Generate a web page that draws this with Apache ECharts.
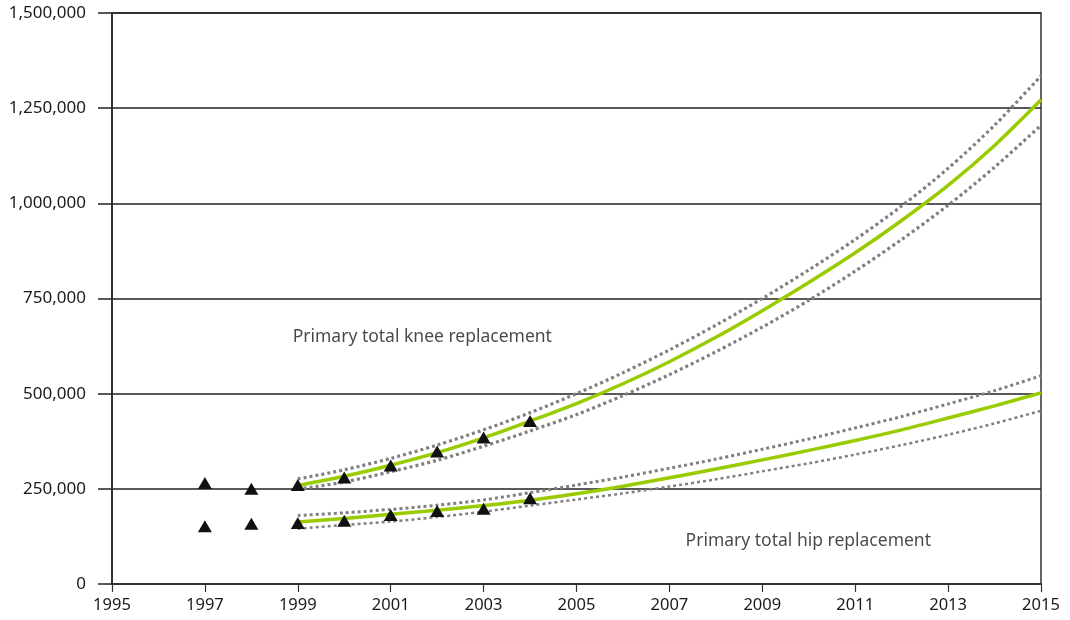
<!DOCTYPE html>
<html>
<head>
<meta charset="utf-8">
<script src="https://cdn.jsdelivr.net/npm/echarts@6/dist/echarts.min.js"></script>
<style>
  html, body { margin: 0; padding: 0; background: #fff; }
  #chart { width: 1070px; height: 620px; }
</style>
</head>
<body>
<div id="chart"></div>
<script>
// Observed annual counts (triangles)
const observedYears = [1997, 1998, 1999, 2000, 2001, 2002, 2003, 2004];
const kneeObserved = [265000, 250000, 260000, 280000, 311000, 348000, 385000, 428000];
const hipObserved  = [152000, 158000, 160000, 166000, 181000, 192000, 198000, 225000];

// Projected trend with upper / lower bounds
const projYears = [1999, 2000, 2001, 2002, 2003, 2004, 2005, 2006, 2007,
                   2008, 2009, 2010, 2011, 2012, 2013, 2014, 2015];
const kneeFit   = [259000, 283000, 312000, 345000, 384000, 428000, 474000, 526000, 584000,
                   648000, 718000, 792000, 870000, 955000, 1047000, 1152000, 1272000];
const kneeUpper = [276000, 300000, 330000, 365000, 405000, 450000, 500000, 555000, 615000,
                   680000, 750000, 825000, 905000, 993000, 1092000, 1205000, 1335000];
const kneeLower = [249000, 268000, 295000, 325000, 362000, 402000, 445000, 495000, 550000,
                   610000, 675000, 745000, 822000, 905000, 995000, 1095000, 1205000];
const hipFit    = [163000, 172000, 183000, 194000, 206000, 220000, 237000, 257000, 279000,
                   302000, 326000, 351000, 377000, 405000, 436000, 468000, 502000];
const hipUpper  = [180000, 187000, 196000, 207000, 221000, 240000, 260000, 281000, 304000,
                   328000, 354000, 381000, 410000, 440000, 473000, 508000, 547000];
const hipLower  = [145000, 155000, 164000, 176000, 190000, 206000, 222000, 238000, 256000,
                   275000, 296000, 317000, 340000, 365000, 392000, 422000, 455000];

// Axis ticks
const xMin = 1995, xMax = 2015, xStep = 2;
const yMin = 0, yMax = 1500000, yStep = 250000;

// In-chart annotations: [year, value, text]
const annotations = [
  [2001.68, 649000, 'Primary total knee replacement'],
  [2009.99, 113000, 'Primary total hip replacement']
];

const FONT = '"Noto Sans", sans-serif';
const TEXT = '#1a1a1a';
const GREEN = '#99cc00';
const GREY = '#808080';

function pairs(xs, ys) { return xs.map((x, i) => [x, ys[i]]); }

function fitLine(name, ys) {
  return {
    name: name, type: 'line', data: pairs(projYears, ys),
    smooth: 0.3, symbol: 'none', z: 3,
    lineStyle: { color: GREEN, width: 3.5 }
  };
}
function boundLine(name, ys, w) {
  return {
    name: name, type: 'line', data: pairs(projYears, ys),
    smooth: 0.3, symbol: 'none', z: 2,
    lineStyle: { color: GREY, width: w, type: [3, 3], cap: 'butt' }
  };
}
function observed(name, ys) {
  return {
    name: name, type: 'scatter', data: pairs(observedYears, ys),
    symbol: 'triangle', symbolSize: [14, 12], z: 5,
    itemStyle: { color: '#111', opacity: 1 }
  };
}

const chart = echarts.init(document.getElementById('chart'), null, { renderer: 'canvas' });
chart.setOption({
  animation: false,
  backgroundColor: '#fff',
  grid: {
    left: 112, right: 29, top: 13, bottom: 36,
    show: true, borderColor: '#333', borderWidth: 1.5, backgroundColor: 'transparent'
  },
  xAxis: {
    type: 'value', min: xMin, max: xMax, interval: xStep,
    axisLine: { show: true, lineStyle: { color: '#333', width: 2 } },
    axisTick: { show: true, length: 8, lineStyle: { color: '#333', width: 1.2 } },
    axisLabel: {
      margin: 13, color: TEXT, fontSize: 16.5, fontFamily: FONT,
      formatter: v => String(v)
    },
    splitLine: { show: false }
  },
  yAxis: {
    type: 'value', min: yMin, max: yMax, interval: yStep,
    axisLine: { show: true, lineStyle: { color: '#333', width: 2 } },
    axisTick: { show: true, length: 14, lineStyle: { color: '#222', width: 1.5 } },
    axisLabel: {
      margin: 26, color: TEXT, fontSize: 17, fontFamily: FONT,
      formatter: v => v.toLocaleString('en-US')
    },
    splitLine: { show: true, lineStyle: { color: '#222', width: 1.5 } }
  },
  series: [
    boundLine('Knee upper', kneeUpper, 3.2),
    boundLine('Knee lower', kneeLower, 3.2),
    fitLine('Knee trend', kneeFit),
    boundLine('Hip upper', hipUpper, 3),
    boundLine('Hip lower', hipLower, 2.5),
    fitLine('Hip trend', hipFit),
    observed('Knee observed', kneeObserved),
    observed('Hip observed', hipObserved),
    {
      name: 'Annotations', type: 'scatter', symbolSize: 0, silent: true, z: 6,
      data: annotations.map(a => ({ value: [a[0], a[1]], name: a[2] })),
      label: {
        show: true, position: 'inside', formatter: p => p.name,
        color: TEXT, fontSize: 17.5, fontFamily: FONT
      }
    }
  ]
});
</script>
</body>
</html>
